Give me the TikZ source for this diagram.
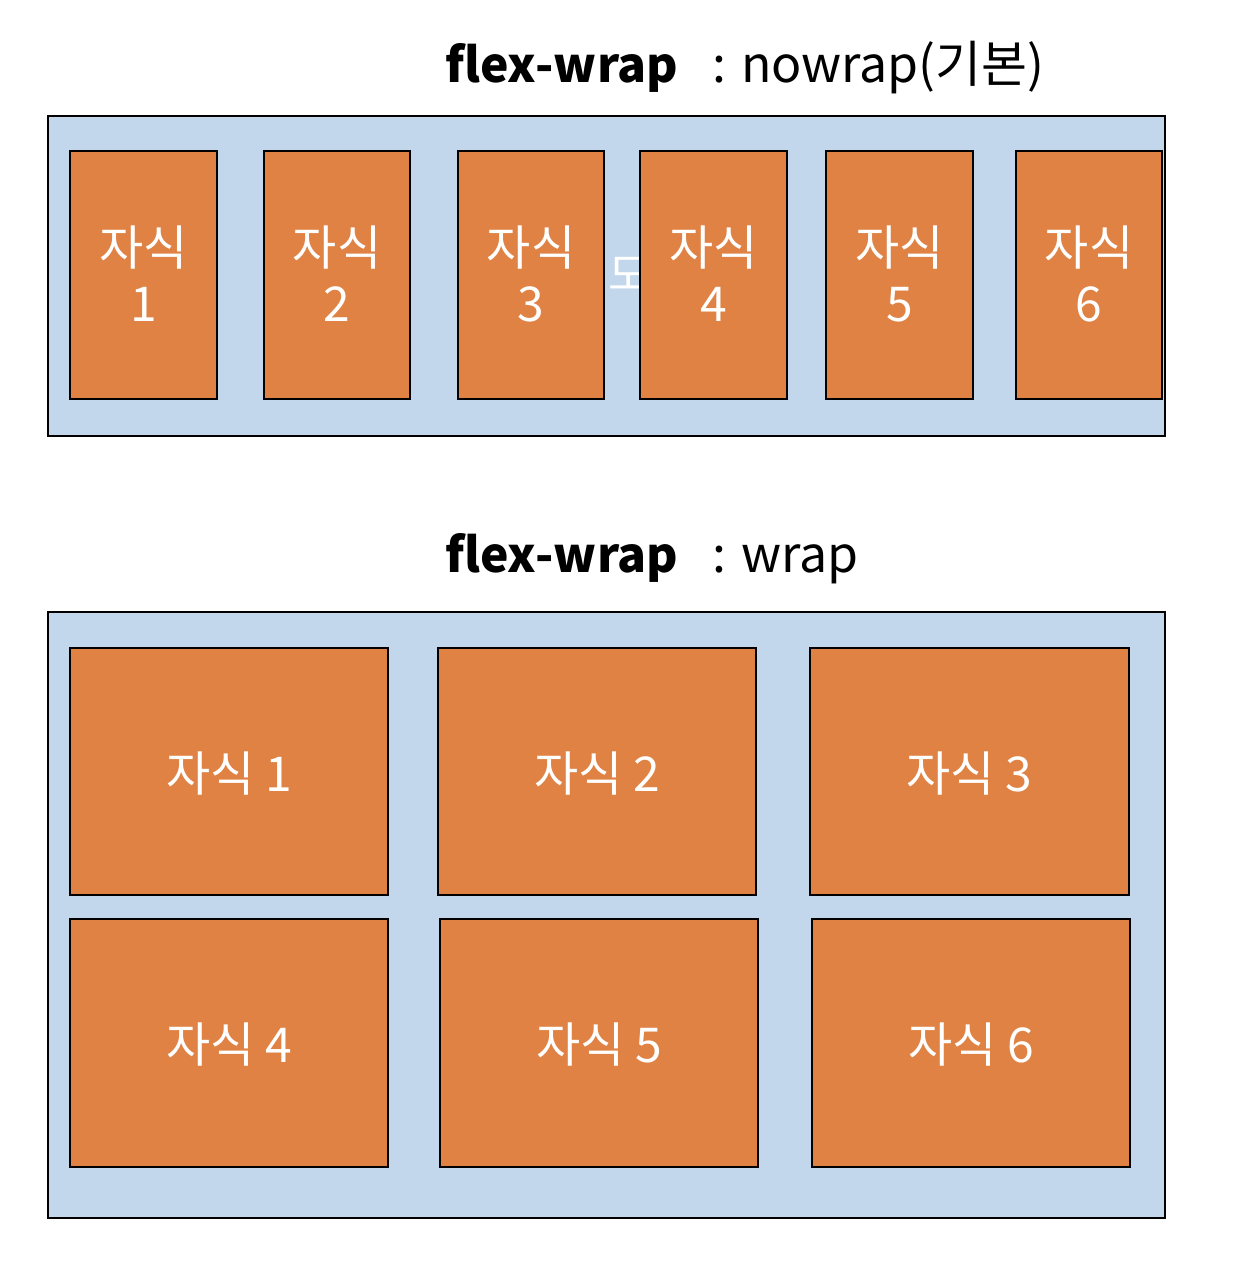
\documentclass[tikz,border=0pt]{standalone}
\usepackage{fontspec}
\setmainfont{Noto Sans CJK KR}
\begin{document}
\begin{tikzpicture}[x=1pt,y=-1pt,
  cont/.style={draw=black,line width=2.6pt,fill=contblue},
  child/.style={draw=black,line width=2.6pt,fill=childor,text=white,font=\fontsize{48}{56}\selectfont,align=center},
  ttlb/.style={font=\fontsize{48}{52}\selectfont\bfseries,inner sep=0pt,anchor=base west},
  ttl/.style={font=\fontsize{50}{54}\selectfont,inner sep=0pt,anchor=base west}]
\definecolor{contblue}{HTML}{C2D7EC}
\definecolor{childor}{HTML}{DF8244}
\useasboundingbox[fill=white] (0,0) rectangle (1258,1278);
% titles
\node[ttlb] (t1a) at (445,82) {flex-wrap};
\node[ttl] (t1b) at (712,82) {: nowrap(기본)};
\node[ttlb] (t2a) at (445,572) {flex-wrap};
\node[ttl] (t2b) at (712,572) {: wrap};
% top container
\path[cont] (48,116) rectangle (1165,436);
\node[text=white,font=\fontsize{44}{44}\selectfont,inner sep=0pt] (hid) at (629,274) {도};
\foreach \n/\xa/\xb in {1/70/217,2/264/410,3/458/604,4/640/787,5/826/973,6/1016/1162}{
  \path[child] (\xa,151) rectangle (\xb,399);
  \node[child,draw=none,fill=none] (a\n) at ({(\xa+\xb)/2},274) {자식\\\n};
}
% bottom container
\path[cont] (48,612) rectangle (1165,1218);
\foreach \n/\xa/\xb/\ya/\yb in {1/70/388/648/895,2/438/756/648/895,3/810/1129/648/895,4/70/388/919/1167,5/440/758/919/1167,6/812/1130/919/1167}{
  \path[child] (\xa,\ya) rectangle (\xb,\yb);
  \node[child,draw=none,fill=none] (b\n) at ({(\xa+\xb)/2},{(\ya+\yb)/2+2}) {자식 \n};
}
\end{tikzpicture}
\end{document}
